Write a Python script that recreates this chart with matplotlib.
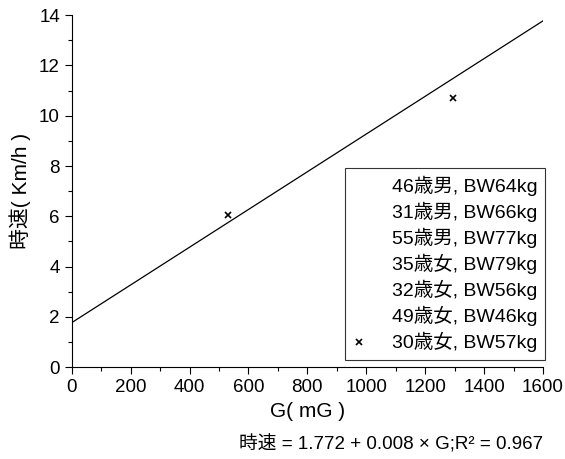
import matplotlib
matplotlib.use("Agg")
import matplotlib.pyplot as plt
import numpy as np

plt.rcParams['font.family'] = ['Liberation Sans', 'Noto Sans CJK JP', 'DejaVu Sans']

# 凡例ラベル
labels = ['46歳男, BW64kg', '31歳男, BW66kg', '55歳男, BW77kg', '35歳女, BW79kg',
          '32歳女, BW56kg', '49歳女, BW46kg', '30歳女, BW57kg']
# 30歳女 の測定点
g_vals = [530, 1295]
speed_vals = [6.05, 10.7]
# 回帰直線
intercept = 1.772
slope = 0.0075

fig, ax = plt.subplots(figsize=(5.65, 4.59), dpi=100)
fig.subplots_adjust(left=0.127, right=0.961, top=0.967, bottom=0.2)

for lab in labels[:-1]:
    ax.plot([], [], linestyle='none', label=lab)
ax.plot(g_vals, speed_vals, linestyle='none', marker='x', color='black',
        markersize=5, markeredgewidth=1.2, label=labels[-1])

xs = np.array([0, 1600])
ax.plot(xs, intercept + slope * xs, color='black', linewidth=0.9)

ax.set_xlim(0, 1600)
ax.set_ylim(0, 14)
ax.set_xticks(range(0, 1601, 200))
ax.set_xticks(range(0, 1601, 100), minor=True)
ax.set_yticks(range(0, 15, 2))
ax.set_yticks(range(0, 15, 1), minor=True)
ax.tick_params(which='both', direction='out', labelsize=13.5, width=0.8)
ax.tick_params(which='major', length=5)
ax.tick_params(which='minor', length=3)
for s in ['top', 'right']:
    ax.spines[s].set_visible(False)

ax.set_xlabel('G( mG )', fontsize=15, labelpad=4)
ax.set_ylabel('時速( Km/h )', fontsize=15, labelpad=6)

leg = ax.legend(loc='lower right', bbox_to_anchor=(1.005, 0.02), fontsize=14,
                frameon=True, fancybox=False, edgecolor='black', handlelength=0.6,
                handletextpad=1.4, borderaxespad=0, labelspacing=0.3,
                borderpad=0.4)
leg.get_frame().set_linewidth(0.8)
for t in leg.get_texts():
    t.set_ha('right')

fig.text(0.962, 0.013, '時速 = 1.772 + 0.008 × G;R² = 0.967', ha='right', va='bottom',
         fontsize=13.5)

fig.savefig('out.png', dpi=100)
